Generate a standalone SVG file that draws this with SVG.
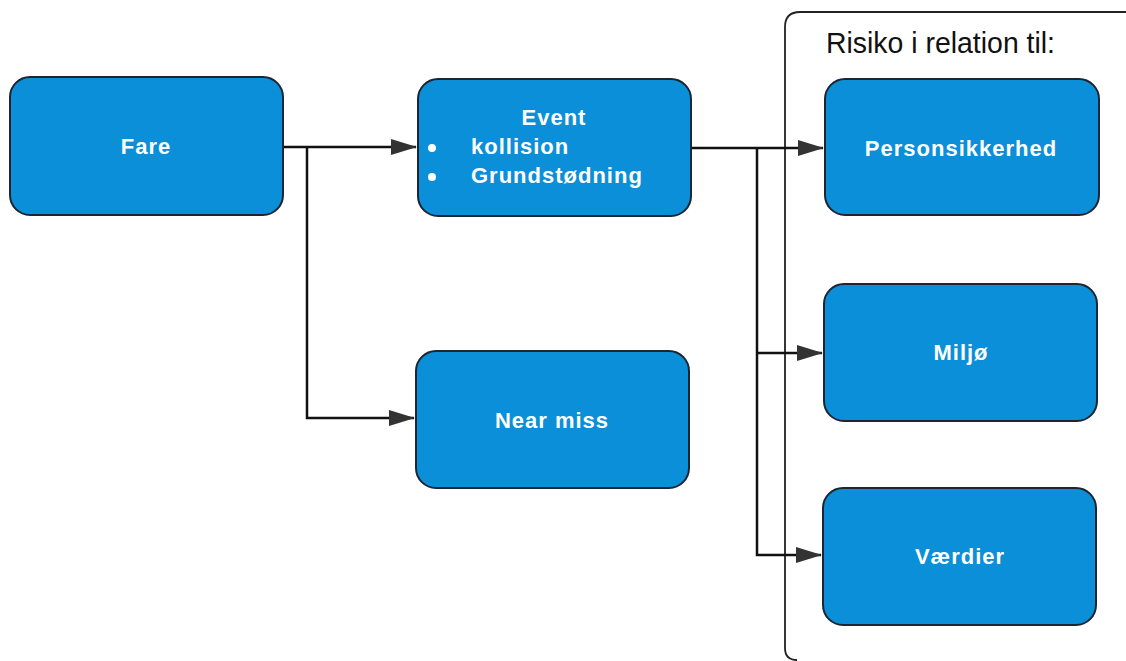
<svg xmlns="http://www.w3.org/2000/svg" width="1126" height="661" viewBox="0 0 1126 661">
<style>
.box{fill:#0b8fd8;stroke:#1c2530;stroke-width:2}
.lbl{font-family:"Liberation Sans",Arial,sans-serif;font-weight:bold;font-size:22px;fill:#fff;letter-spacing:1px}
.conn{fill:none;stroke:#111;stroke-width:2.5}
.title{font-family:"Liberation Sans",Arial,sans-serif;font-size:30px;fill:#111}
</style>
<defs>
<marker id="arr" markerWidth="26" markerHeight="18" refX="25" refY="9" orient="auto" markerUnits="userSpaceOnUse">
<path d="M0,1 L26,9 L0,17 Z" fill="#333"/>
</marker>
</defs>
<rect width="1126" height="661" fill="#fff"/>
<g id="container">
<path d="M1130,12 L800,12 Q785,12 785,27 L785,648 Q785,660 797,660" fill="none" stroke="#222" stroke-width="1.8"/>
<text class="title" x="826" y="53" textLength="229" lengthAdjust="spacingAndGlyphs">Risiko i relation til:</text>
</g>
<g id="connectors">
<path class="conn" d="M283,147 L416,147" marker-end="url(#arr)"/>
<path class="conn" d="M307,147 L307,418 L414,418" marker-end="url(#arr)"/>
<path class="conn" d="M691,148 L823,148" marker-end="url(#arr)"/>
<path class="conn" d="M757,148 L757,555 L821,555" marker-end="url(#arr)"/>
<path class="conn" d="M757,353 L822,353" marker-end="url(#arr)"/>
</g>
<g id="fare">
<rect class="box" x="10" y="77" width="273" height="138" rx="20"/>
<text class="lbl" x="146" y="154" text-anchor="middle">Fare</text>
</g>
<g id="event">
<rect class="box" x="418" y="79" width="273" height="137" rx="20"/>
<text class="lbl" x="554" y="125" text-anchor="middle">Event</text>
<circle cx="432" cy="148" r="4" fill="#fff"/>
<circle cx="432" cy="177" r="4" fill="#fff"/>
<text class="lbl" x="471" y="154">kollision</text>
<text class="lbl" x="471" y="183">Grundstødning</text>
</g>
<g id="nearmiss">
<rect class="box" x="416" y="351" width="273" height="137" rx="20"/>
<text class="lbl" x="552" y="428" text-anchor="middle">Near miss</text>
</g>
<g id="personsikkerhed">
<rect class="box" x="825" y="79" width="274" height="136" rx="20"/>
<text class="lbl" x="961" y="156" text-anchor="middle">Personsikkerhed</text>
</g>
<g id="miljo">
<rect class="box" x="824" y="284" width="273" height="137" rx="20"/>
<text class="lbl" x="961" y="360" text-anchor="middle">Miljø</text>
</g>
<g id="vaerdier">
<rect class="box" x="823" y="488" width="273" height="137" rx="20"/>
<text class="lbl" x="960" y="564" text-anchor="middle">Værdier</text>
</g>
</svg>
